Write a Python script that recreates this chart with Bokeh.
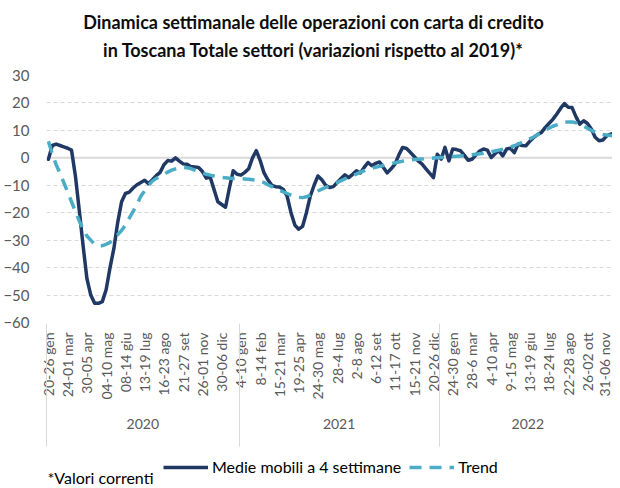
import math
from bokeh.plotting import figure
from bokeh.layouts import column
from bokeh.models import (Range1d, FixedTicker, LinearAxis, Span, Legend,
                          LegendItem, Label, ColumnDataSource)
from bokeh.embed import file_html
from bokeh.resources import INLINE

# ---------------- data ----------------
years = ["2020", "2021", "2022"]
weeks_per_year = [50, 52, 46]

week_labels = [
    "20-26 gen", "24-01 mar", "30-05 apr", "04-10 mag", "08-14 giu",
    "13-19 lug", "16-23 ago", "21-27 set", "26-01 nov", "30-06 dic",
    "4-10 gen", "8-14 feb", "15-21 mar", "19-25 apr", "24-30 mag",
    "28-4 lug", "2-8 ago", "6-12 set", "11-17 ott", "15-21 nov", "20-26 dic",
    "24-30 gen", "28-6 mar", "4-10 apr", "9-15 mag", "13-19 giu",
    "18-24 lug", "22-28 ago", "26-02 ott", "31-06 nov",
]
label_every = 5

medie_mobili = [
    -0.5, 4.5, 5.0, 4.5, 4.0, 3.5, 2.8, -6.5, -19, -32,
    -44, -50, -53, -53, -52.4, -48, -40, -33, -23.5, -16,
    -13, -12.5, -11, -9.8, -9, -8.2, -9.4, -8, -6.5, -5.3,
    -2.5, -1, -1.2, 0, -1.2, -2.2, -2.3, -3.2, -3.3, -3.5,
    -5, -7.4, -7, -11.5, -16, -17, -18, -11, -4.7, -6,
    -6.3, -5.3, -4, 0, 2.6, -1, -5.5, -8, -10, -10.5,
    -10.6, -11.5, -14, -20, -24.5, -26, -25, -20, -14, -10,
    -6.6, -8, -10, -10.8, -10.5, -9, -7.5, -6.2, -7.2, -6,
    -4.7, -5.5, -3.5, -1.7, -2.9, -2, -1.5, -3.5, -5.5, -4,
    -2.3, 1, 3.8, 3.4, 2, 0.5, -1.1, -2.2, -3.9, -5.6,
    -7.2, 1.3, -0.5, 3.8, -1.1, 3.2, 3, 2.6, 1, -0.9,
    -0.5, 1, 2.5, 3.2, 2.8, 0.1, 1.5, 2.6, 0.7, 3.2,
    3.5, 1.9, 5.0, 4.5, 4.4, 6, 7.4, 8.5, 9.2, 11,
    12.5, 14, 15.9, 18, 19.8, 18.4, 18.3, 15, 12.3, 13.5,
    12.5, 10.5, 7.5, 6.2, 6.5, 8, 8.6, 9.0,
]

trend = [
    6, 1.5, -2.5, -5.5, -9, -12.5, -16, -19.5, -23, -26,
    -28.5, -30, -31.5, -32, -32, -31.5, -30.8, -29.5, -28, -26.5,
    -24.5, -22, -19.5, -17, -14, -12, -10, -8.5, -7.5, -6.7,
    -6, -5.2, -4.5, -4, -3.6, -3.5, -3.6, -3.9, -4.5, -5,
    -5.5, -6, -6.3, -6.6, -6.9, -7.1, -7.3, -7.4, -7.5, -7.5,
    -7.6, -7.7, -7.8, -8, -8.2, -8.5, -9, -9.8, -10.5, -11.2,
    -11.8, -12.4, -13, -13.6, -14.1, -14.4, -14.5, -14.2, -13.6, -12.8,
    -12.1, -11.4, -10.8, -10.2, -9.6, -9, -8.3, -7.7, -7.1, -6.5,
    -5.9, -5.2, -4.7, -4.2, -3.8, -3.4, -3.1, -2.8, -2.4, -2.1,
    -1.8, -1.5, -1.2, -1, -0.8, -0.6, -0.5, -0.4, -0.3, -0.2,
    -0.1, 0, 0.1, 0.2, 0.4, 0.5, 0.6, 0.7, 0.8, 0.9,
    1.1, 1.3, 1.5, 1.7, 2, 2.2, 2.5, 2.8, 3.1, 3.5,
    3.9, 4.4, 5, 5.6, 6.2, 6.9, 7.6, 8.4, 9.2, 10,
    10.8, 11.5, 12, 12.5, 12.9, 13.1, 13.1, 12.8, 12.3, 11.6,
    10.8, 10, 9.3, 8.8, 8.5, 8.3, 8.1, 7.9,
]

y_ticks = [-60, -50, -40, -30, -20, -10, 0, 10, 20, 30]

title_lines = ["Dinamica settimanale delle operazioni con carta di credito",
               "in Toscana Totale settori (variazioni rispetto al 2019)*"]
series_names = ["Medie mobili a 4 settimane", "Trend"]
footnote = "*Valori correnti"

# ---------------- derived positions ----------------
n = len(medie_mobili)
xs = list(range(n))
src = ColumnDataSource(data=dict(x=xs, medie=medie_mobili, trend=trend))

label_pos = list(range(0, n, label_every))[:len(week_labels)]
starts = []
acc = 0
for c in weeks_per_year:
    starts.append(acc)
    acc += c
boundaries = [s - 0.5 for s in starts]
year_centers = [s + (c - 1) / 2 for s, c in zip(starts, weeks_per_year)]

NAVY = "#1F3864"
LIGHT = "#4BACC6"
GRID = "#D9D9D9"
TXT = "#595959"
FONT = "Lato"
W = 612


def blank_fig(h, xr=(0, 1)):
    f = figure(width=W, height=h, output_backend="svg", toolbar_location=None,
               x_axis_location=None, y_axis_location=None,
               x_range=Range1d(*xr), y_range=Range1d(0, 1),
               min_border=0, title=None)
    f.outline_line_color = None
    f.grid.visible = False
    return f


# ---------------- title strip ----------------
t_fig = blank_fig(65)
for txt, ty in zip(title_lines, [44, 16]):
    t_fig.add_layout(Label(x=267, y=ty, x_units="screen", y_units="screen",
                           text=txt, text_font=FONT, text_font_size="18px",
                           text_font_style="bold", text_color="#0D0D0D",
                           text_baseline="middle", text_align="center"))

# ---------------- main chart ----------------
p = figure(width=W, height=385, output_backend="svg", toolbar_location=None,
           x_range=Range1d(-0.5, 146.5), y_range=Range1d(y_ticks[0], y_ticks[-1]),
           min_border_left=40, min_border_right=0, min_border_top=10,
           min_border_bottom=128, title=None)
p.outline_line_color = None
p.xgrid.visible = False

yax = p.yaxis[0]
yax.ticker = FixedTicker(ticks=y_ticks)
yax.axis_line_color = None
yax.major_tick_line_color = None
yax.major_tick_out = 0
yax.major_tick_in = 0
yax.minor_tick_line_color = None
yax.minor_tick_out = 0
yax.major_label_standoff = 17
yax.major_label_text_font = FONT
yax.major_label_text_font_size = "15px"
yax.major_label_text_color = TXT

p.ygrid.ticker = FixedTicker(ticks=y_ticks)
p.ygrid.grid_line_color = GRID
p.ygrid.grid_line_dash = "4 3"
p.ygrid.grid_line_width = 1

p.add_layout(Span(location=0, dimension="width", line_color=GRID,
                  line_width=2, level="underlay"))

# category axis (week labels)
xax = p.xaxis[0]
xax.ticker = FixedTicker(ticks=label_pos)
xax.major_label_overrides = {pos: lab for pos, lab in zip(label_pos, week_labels)}
xax.major_label_orientation = math.pi / 2
xax.axis_line_color = None
xax.major_tick_line_color = None
xax.major_tick_out = 0
xax.major_tick_in = 0
xax.minor_tick_line_color = None
xax.minor_tick_out = 0
xax.minor_tick_in = 0
xax.major_label_standoff = 10
xax.major_label_text_font = FONT
xax.major_label_text_font_size = "14px"
xax.major_label_text_color = TXT

# year axis
yr = LinearAxis(ticker=FixedTicker(ticks=year_centers),
                major_label_overrides={c: y for c, y in zip(year_centers, years)})
yr.axis_line_color = None
yr.major_tick_line_color = None
yr.major_tick_out = 0
yr.major_tick_in = 0
yr.minor_tick_line_color = None
yr.minor_tick_out = 0
yr.major_label_standoff = 16
yr.major_label_text_font = FONT
yr.major_label_text_font_size = "14px"
yr.major_label_text_color = TXT
p.add_layout(yr, "below")

# separator axis: year-group boundary lines reaching up to the frame
sep = LinearAxis(ticker=FixedTicker(ticks=boundaries),
                 major_label_overrides={b: " " for b in boundaries})
sep.axis_line_color = None
sep.major_tick_line_color = GRID
sep.major_tick_line_width = 1
sep.major_tick_in = 108
sep.major_tick_out = 15
sep.minor_tick_line_color = None
sep.minor_tick_out = 0
sep.minor_tick_in = 0
sep.major_label_standoff = 0
sep.major_label_text_font_size = "1px"
sep.major_label_text_alpha = 0
p.add_layout(sep, "below")

p.line("x", "medie", source=src, line_color=NAVY, line_width=3.5,
       line_join="round", line_cap="round")
p.line("x", "trend", source=src, line_color=LIGHT, line_width=3.5,
       line_dash="12 8")

# ---------------- legend + footnote strip ----------------
# legend proxies use the same data, kept outside this strip's visible x range
l_fig = blank_fig(37, xr=(-1000, -999))
k1 = l_fig.line("x", "medie", source=src, line_color=NAVY, line_width=3.5)
k2 = l_fig.line("x", "trend", source=src, line_color=LIGHT, line_width=3.5,
                line_dash="12 8")
legend = Legend(items=[LegendItem(label=series_names[0], renderers=[k1]),
                       LegendItem(label=series_names[1], renderers=[k2])],
                orientation="horizontal", location=(117, 11),
                glyph_width=45, glyph_height=18, label_standoff=4, spacing=8,
                padding=0, margin=0, border_line_color=None,
                background_fill_alpha=0,
                label_text_font=FONT, label_text_font_size="16px",
                label_text_color="#000000")
l_fig.add_layout(legend, "center")
l_fig.add_layout(Label(x=1, y=1, x_units="screen", y_units="screen",
                       text=footnote, text_font=FONT, text_font_size="16px",
                       text_color="#000000", text_baseline="bottom",
                       text_align="left"))

layout = column(t_fig, p, l_fig, spacing=0)
open("out.html", "w").write(file_html(layout, INLINE))
